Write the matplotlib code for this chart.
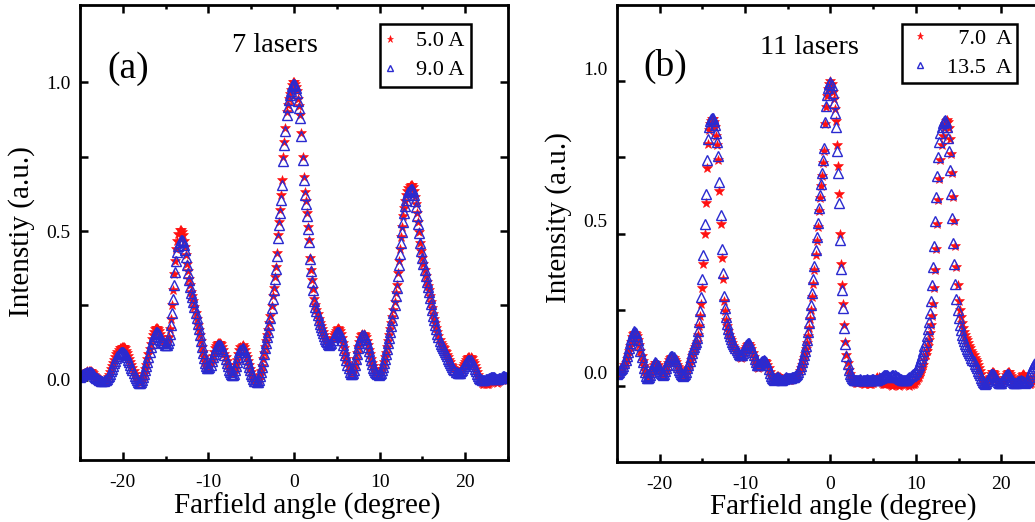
import numpy as np
import matplotlib
matplotlib.use('Agg')
import matplotlib.pyplot as plt
from matplotlib.ticker import MultipleLocator
from matplotlib.transforms import ScaledTranslation

plt.rcParams['font.family'] = ['Liberation Serif', 'DejaVu Serif']

# farfield angle grid (degree): -25 .. 25, one sample every 0.125 deg
# each row below = 1 degree (8 samples)
angle = np.arange(-25.0, 25.0001, 0.125)

# (a) 7 lasers, 5.0 A
a_5A = [
    0.010, 0.012, 0.015, 0.018, 0.021, 0.024, 0.027, 0.029,   # -25
    0.030, 0.030, 0.028, 0.025, 0.021, 0.016, 0.012, 0.008,   # -24
    0.005, 0.002, 0.000, -0.003, -0.005, -0.006, -0.005, -0.003,
    0.000, 0.004, 0.010, 0.017, 0.025, 0.035, 0.045, 0.055,   # -22
    0.065, 0.075, 0.085, 0.093, 0.100, 0.105, 0.108, 0.110,
    0.110, 0.109, 0.105, 0.098, 0.090, 0.080, 0.070, 0.060,   # -20
    0.050, 0.040, 0.030, 0.020, 0.010, 0.002, -0.005, -0.009,
    -0.010, -0.007, 0.000, 0.010, 0.020, 0.035, 0.050, 0.068,
    0.085, 0.103, 0.120, 0.136, 0.150, 0.161, 0.170, 0.174,
    0.175, 0.172, 0.165, 0.155, 0.145, 0.135, 0.128, 0.123,   # -16
    0.120, 0.122, 0.130, 0.145, 0.170, 0.205, 0.250, 0.300,
    0.355, 0.400, 0.440, 0.468, 0.490, 0.502, 0.505, 0.498,   # -14
    0.485, 0.467, 0.445, 0.418, 0.390, 0.365, 0.340, 0.317,
    0.295, 0.280, 0.265, 0.245, 0.225, 0.205, 0.185, 0.168,   # -12
    0.150, 0.130, 0.110, 0.092, 0.075, 0.058, 0.045, 0.040,
    0.040, 0.045, 0.055, 0.067, 0.080, 0.093, 0.105, 0.114,   # -10
    0.120, 0.124, 0.125, 0.124, 0.120, 0.111, 0.100, 0.088,
    0.075, 0.062, 0.050, 0.039, 0.030, 0.024, 0.020, 0.020,   # -8
    0.025, 0.036, 0.050, 0.067, 0.085, 0.100, 0.110, 0.114,
    0.115, 0.110, 0.100, 0.088, 0.075, 0.062, 0.050, 0.037,   # -6
    0.025, 0.014, 0.005, -0.002, -0.006, -0.010, -0.010, 0.000,
    0.015, 0.030, 0.045, 0.068, 0.090, 0.110, 0.130, 0.150,   # -4
    0.168, 0.190, 0.215, 0.248, 0.280, 0.310, 0.345, 0.380,
    0.425, 0.485, 0.530, 0.570, 0.620, 0.670, 0.750, 0.800,   # -2
    0.845, 0.900, 0.925, 0.945, 0.960, 0.975, 0.990, 1.000,
    1.000, 0.995, 0.985, 0.970, 0.945, 0.920, 0.890, 0.830,   # 0
    0.750, 0.680, 0.630, 0.600, 0.560, 0.515, 0.470, 0.410,
    0.370, 0.335, 0.305, 0.270, 0.250, 0.235, 0.220, 0.205,   # 2
    0.190, 0.180, 0.170, 0.160, 0.150, 0.140, 0.135, 0.130,
    0.125, 0.122, 0.123, 0.130, 0.140, 0.150, 0.158, 0.165,   # 4
    0.170, 0.173, 0.172, 0.165, 0.155, 0.140, 0.122, 0.105,
    0.088, 0.070, 0.055, 0.042, 0.030, 0.022, 0.020, 0.025,   # 6
    0.035, 0.050, 0.070, 0.090, 0.110, 0.127, 0.140, 0.150,
    0.155, 0.155, 0.150, 0.142, 0.130, 0.116, 0.100, 0.085,   # 8
    0.070, 0.057, 0.045, 0.036, 0.030, 0.024, 0.020, 0.019,
    0.020, 0.025, 0.035, 0.047, 0.060, 0.075, 0.090, 0.110,   # 10
    0.130, 0.150, 0.170, 0.190, 0.210, 0.235, 0.260, 0.290,
    0.320, 0.360, 0.400, 0.440, 0.480, 0.515, 0.550, 0.577,   # 12
    0.600, 0.620, 0.635, 0.646, 0.653, 0.656, 0.655, 0.647,
    0.635, 0.615, 0.590, 0.560, 0.530, 0.495, 0.460, 0.433,   # 14
    0.410, 0.390, 0.370, 0.350, 0.330, 0.315, 0.300, 0.280,
    0.260, 0.240, 0.220, 0.205, 0.190, 0.175, 0.160, 0.147,   # 16
    0.135, 0.125, 0.117, 0.110, 0.105, 0.098, 0.092, 0.084,
    0.076, 0.067, 0.058, 0.050, 0.045, 0.040, 0.035, 0.031,   # 18
    0.028, 0.026, 0.025, 0.027, 0.030, 0.037, 0.045, 0.052,
    0.060, 0.066, 0.072, 0.076, 0.078, 0.076, 0.072, 0.064,   # 20
    0.055, 0.045, 0.035, 0.025, 0.015, 0.007, 0.000, -0.005,
    -0.010, -0.013, -0.015, -0.016, -0.015, -0.013, -0.010, -0.007,
    -0.005, -0.002, 0.000, -0.002, -0.005, -0.008, -0.010, -0.008,
    -0.005, -0.002, 0.000, 0.003, 0.005, 0.005, 0.005, 0.002,  # 24
    0.000,
]

# (a) 7 lasers, 9.0 A
a_9A = [
    0.010, 0.012, 0.015, 0.018, 0.020, 0.022, 0.024, 0.026,   # -25
    0.027, 0.027, 0.025, 0.022, 0.018, 0.014, 0.010, 0.007,
    0.005, 0.002, 0.000, -0.002, -0.004, -0.005, -0.004, -0.002,
    0.000, 0.003, 0.008, 0.014, 0.020, 0.028, 0.037, 0.046,   # -22
    0.055, 0.064, 0.072, 0.079, 0.085, 0.089, 0.092, 0.093,
    0.092, 0.091, 0.088, 0.082, 0.075, 0.067, 0.058, 0.049,   # -20
    0.040, 0.031, 0.022, 0.013, 0.005, -0.002, -0.007, -0.010,
    -0.010, -0.007, 0.000, 0.009, 0.018, 0.031, 0.045, 0.061,
    0.078, 0.094, 0.110, 0.125, 0.138, 0.148, 0.155, 0.159,
    0.160, 0.158, 0.152, 0.144, 0.135, 0.128, 0.122, 0.118,   # -16
    0.115, 0.116, 0.122, 0.135, 0.155, 0.185, 0.225, 0.270,
    0.320, 0.362, 0.400, 0.428, 0.450, 0.464, 0.470, 0.470,   # -14
    0.465, 0.452, 0.435, 0.411, 0.385, 0.360, 0.335, 0.312,
    0.290, 0.277, 0.262, 0.244, 0.225, 0.206, 0.188, 0.170,   # -12
    0.150, 0.130, 0.110, 0.090, 0.072, 0.056, 0.045, 0.039,
    0.038, 0.042, 0.050, 0.062, 0.075, 0.087, 0.098, 0.106,   # -10
    0.112, 0.116, 0.118, 0.117, 0.112, 0.104, 0.095, 0.083,
    0.070, 0.057, 0.045, 0.034, 0.025, 0.019, 0.015, 0.015,   # -8
    0.020, 0.031, 0.045, 0.061, 0.078, 0.092, 0.100, 0.104,
    0.105, 0.101, 0.092, 0.081, 0.068, 0.055, 0.042, 0.031,   # -6
    0.020, 0.011, 0.003, -0.003, -0.006, -0.008, -0.008, 0.000,
    0.013, 0.027, 0.042, 0.063, 0.085, 0.105, 0.124, 0.144,   # -4
    0.162, 0.184, 0.208, 0.240, 0.272, 0.302, 0.337, 0.372,
    0.415, 0.475, 0.520, 0.560, 0.605, 0.655, 0.735, 0.790,   # -2
    0.835, 0.890, 0.918, 0.940, 0.956, 0.972, 0.986, 0.995,
    0.995, 0.990, 0.980, 0.965, 0.938, 0.912, 0.880, 0.820,   # 0
    0.740, 0.670, 0.620, 0.592, 0.552, 0.508, 0.463, 0.405,
    0.365, 0.330, 0.300, 0.266, 0.246, 0.231, 0.216, 0.201,   # 2
    0.186, 0.176, 0.166, 0.156, 0.146, 0.136, 0.131, 0.126,
    0.121, 0.118, 0.119, 0.125, 0.134, 0.143, 0.150, 0.156,   # 4
    0.160, 0.162, 0.161, 0.155, 0.146, 0.132, 0.115, 0.099,
    0.083, 0.066, 0.051, 0.038, 0.027, 0.020, 0.018, 0.023,   # 6
    0.033, 0.048, 0.068, 0.088, 0.107, 0.123, 0.135, 0.144,
    0.149, 0.149, 0.145, 0.137, 0.125, 0.111, 0.096, 0.081,   # 8
    0.066, 0.053, 0.041, 0.032, 0.026, 0.021, 0.018, 0.017,
    0.018, 0.022, 0.031, 0.043, 0.055, 0.070, 0.085, 0.104,   # 10
    0.122, 0.141, 0.160, 0.180, 0.200, 0.224, 0.250, 0.280,
    0.310, 0.348, 0.385, 0.423, 0.460, 0.495, 0.530, 0.560,   # 12
    0.585, 0.605, 0.620, 0.631, 0.638, 0.641, 0.640, 0.633,
    0.620, 0.602, 0.580, 0.552, 0.525, 0.492, 0.460, 0.433,   # 14
    0.410, 0.390, 0.370, 0.350, 0.330, 0.312, 0.295, 0.275,
    0.255, 0.235, 0.215, 0.200, 0.185, 0.170, 0.155, 0.142,   # 16
    0.130, 0.120, 0.112, 0.105, 0.100, 0.093, 0.087, 0.079,
    0.071, 0.063, 0.055, 0.048, 0.042, 0.036, 0.031, 0.027,   # 18
    0.025, 0.023, 0.022, 0.024, 0.028, 0.034, 0.040, 0.046,
    0.052, 0.057, 0.062, 0.065, 0.066, 0.065, 0.060, 0.053,   # 20
    0.045, 0.037, 0.028, 0.020, 0.012, 0.006, 0.003, 0.001,
    0.000, 0.000, 0.000, 0.001, 0.002, 0.003, 0.005, 0.006,   # 22
    0.008, 0.009, 0.010, 0.008, 0.005, 0.003, 0.002, 0.003,
    0.005, 0.007, 0.010, 0.012, 0.012, 0.010, 0.008, 0.006,   # 24
    0.005,
]

# (b) 11 lasers, 7.0 A
b_7A = [
    0.040, 0.042, 0.045, 0.047, 0.050, 0.055, 0.060, 0.067,   # -25
    0.075, 0.087, 0.100, 0.115, 0.130, 0.145, 0.160, 0.170,
    0.175, 0.174, 0.170, 0.162, 0.150, 0.133, 0.115, 0.097,   # -23
    0.080, 0.064, 0.050, 0.039, 0.030, 0.026, 0.025, 0.031,
    0.040, 0.050, 0.060, 0.069, 0.075, 0.074, 0.070, 0.060,   # -21
    0.050, 0.042, 0.035, 0.033, 0.035, 0.041, 0.050, 0.062,
    0.075, 0.084, 0.090, 0.094, 0.095, 0.091, 0.085, 0.078,   # -19
    0.070, 0.062, 0.055, 0.047, 0.040, 0.035, 0.033, 0.034,
    0.037, 0.042, 0.050, 0.060, 0.072, 0.085, 0.097, 0.108,   # -17
    0.117, 0.126, 0.135, 0.145, 0.168, 0.198, 0.230, 0.270,
    0.320, 0.400, 0.500, 0.600, 0.715, 0.795, 0.840, 0.860,   # -15
    0.870, 0.876, 0.875, 0.865, 0.850, 0.820, 0.790, 0.740,
    0.640, 0.530, 0.420, 0.350, 0.280, 0.245, 0.215, 0.195,   # -13
    0.180, 0.168, 0.158, 0.150, 0.140, 0.132, 0.125, 0.118,
    0.112, 0.105, 0.100, 0.096, 0.093, 0.095, 0.100, 0.110,   # -11
    0.120, 0.128, 0.133, 0.137, 0.137, 0.130, 0.120, 0.108,
    0.095, 0.082, 0.072, 0.063, 0.060, 0.062, 0.067, 0.072,   # -9
    0.077, 0.080, 0.082, 0.082, 0.078, 0.070, 0.058, 0.045,
    0.035, 0.028, 0.025, 0.025, 0.027, 0.030, 0.032, 0.032,   # -7
    0.030, 0.028, 0.025, 0.022, 0.020, 0.022, 0.025, 0.023,
    0.020, 0.020, 0.020, 0.022, 0.025, 0.025, 0.025, 0.028,   # -5
    0.030, 0.035, 0.040, 0.050, 0.060, 0.070, 0.080, 0.090,
    0.105, 0.120, 0.140, 0.165, 0.190, 0.220, 0.250, 0.290,   # -3
    0.335, 0.380, 0.430, 0.475, 0.520, 0.575, 0.615, 0.655,
    0.690, 0.730, 0.770, 0.860, 0.915, 0.950, 0.975, 0.990,   # -1
    1.000, 0.990, 0.965, 0.940, 0.910, 0.870, 0.790, 0.720,
    0.630, 0.500, 0.400, 0.330, 0.270, 0.200, 0.145, 0.100,   # 1
    0.075, 0.052, 0.040, 0.030, 0.022, 0.018, 0.015, 0.012,
    0.010, 0.010, 0.010, 0.012, 0.015, 0.012, 0.010, 0.007,   # 3
    0.005, 0.008, 0.010, 0.008, 0.005, 0.005, 0.005, 0.008,
    0.010, 0.015, 0.020, 0.026, 0.030, 0.028, 0.025, 0.017,   # 5
    0.010, 0.007, 0.005, 0.005, 0.005, 0.008, 0.010, 0.008,
    0.005, 0.002, 0.000, 0.003, 0.005, 0.005, 0.005, 0.002,   # 7
    0.000, 0.003, 0.005, 0.008, 0.010, 0.008, 0.005, 0.005,
    0.005, 0.002, 0.000, 0.003, 0.005, 0.005, 0.005, 0.010,   # 9
    0.015, 0.020, 0.025, 0.030, 0.040, 0.050, 0.060, 0.070,
    0.085, 0.100, 0.115, 0.130, 0.150, 0.175, 0.200, 0.230,   # 11
    0.270, 0.320, 0.380, 0.450, 0.530, 0.610, 0.680, 0.740,
    0.790, 0.820, 0.845, 0.860, 0.870, 0.872, 0.865, 0.845,   # 13
    0.810, 0.760, 0.700, 0.620, 0.540, 0.460, 0.390, 0.330,
    0.280, 0.250, 0.225, 0.205, 0.190, 0.178, 0.168, 0.158,   # 15
    0.150, 0.140, 0.132, 0.124, 0.115, 0.107, 0.100, 0.092,
    0.085, 0.077, 0.070, 0.060, 0.050, 0.038, 0.025, 0.015,   # 17
    0.008, 0.005, 0.005, 0.010, 0.020, 0.030, 0.040, 0.044,
    0.045, 0.042, 0.035, 0.027, 0.020, 0.014, 0.010, 0.007,   # 19
    0.005, 0.008, 0.015, 0.025, 0.035, 0.042, 0.045, 0.044,
    0.040, 0.033, 0.025, 0.017, 0.010, 0.007, 0.005, 0.007,   # 21
    0.010, 0.020, 0.030, 0.036, 0.040, 0.036, 0.030, 0.022,
    0.015, 0.010, 0.005, 0.007, 0.010, 0.015, 0.020, 0.025,   # 23
    0.030, 0.035, 0.040, 0.043, 0.045, 0.043, 0.040, 0.037,
    0.035,
]

# (b) 11 lasers, 13.5 A
b_13A = [
    0.040, 0.043, 0.047, 0.051, 0.055, 0.060, 0.065, 0.074,   # -25
    0.085, 0.097, 0.110, 0.125, 0.140, 0.155, 0.165, 0.175,
    0.180, 0.178, 0.172, 0.163, 0.150, 0.133, 0.115, 0.096,   # -23
    0.078, 0.060, 0.045, 0.033, 0.025, 0.025, 0.028, 0.036,
    0.045, 0.055, 0.065, 0.073, 0.078, 0.076, 0.070, 0.060,   # -21
    0.050, 0.043, 0.038, 0.037, 0.040, 0.048, 0.058, 0.070,
    0.080, 0.089, 0.095, 0.098, 0.098, 0.094, 0.088, 0.080,   # -19
    0.070, 0.061, 0.052, 0.044, 0.038, 0.034, 0.032, 0.034,
    0.040, 0.046, 0.058, 0.070, 0.082, 0.095, 0.108, 0.120,   # -17
    0.128, 0.136, 0.145, 0.158, 0.180, 0.210, 0.245, 0.290,
    0.350, 0.430, 0.530, 0.630, 0.740, 0.810, 0.850, 0.868,   # -15
    0.876, 0.880, 0.878, 0.870, 0.855, 0.830, 0.800, 0.755,
    0.670, 0.560, 0.450, 0.370, 0.295, 0.255, 0.225, 0.202,   # -13
    0.185, 0.172, 0.162, 0.153, 0.145, 0.137, 0.130, 0.124,
    0.118, 0.112, 0.106, 0.102, 0.100, 0.102, 0.108, 0.117,   # -11
    0.126, 0.133, 0.138, 0.140, 0.140, 0.134, 0.124, 0.112,
    0.100, 0.088, 0.078, 0.070, 0.067, 0.068, 0.072, 0.077,   # -9
    0.081, 0.083, 0.084, 0.083, 0.078, 0.068, 0.055, 0.042,
    0.032, 0.026, 0.022, 0.020, 0.022, 0.025, 0.028, 0.028,   # -7
    0.025, 0.022, 0.020, 0.020, 0.022, 0.025, 0.028, 0.027,
    0.025, 0.025, 0.025, 0.027, 0.030, 0.030, 0.030, 0.032,   # -5
    0.035, 0.040, 0.045, 0.055, 0.065, 0.077, 0.088, 0.100,
    0.115, 0.132, 0.152, 0.177, 0.205, 0.235, 0.265, 0.305,   # -3
    0.350, 0.395, 0.445, 0.490, 0.535, 0.585, 0.625, 0.662,
    0.700, 0.740, 0.780, 0.865, 0.920, 0.955, 0.978, 0.992,   # -1
    0.998, 0.988, 0.960, 0.930, 0.895, 0.850, 0.770, 0.700,
    0.600, 0.480, 0.385, 0.315, 0.255, 0.190, 0.138, 0.098,   # 1
    0.072, 0.052, 0.040, 0.032, 0.025, 0.022, 0.020, 0.018,
    0.018, 0.018, 0.020, 0.020, 0.022, 0.020, 0.018, 0.018,   # 3
    0.020, 0.020, 0.022, 0.020, 0.018, 0.018, 0.020, 0.022,
    0.022, 0.020, 0.018, 0.018, 0.020, 0.022, 0.025, 0.027,   # 5
    0.030, 0.032, 0.034, 0.035, 0.035, 0.035, 0.033, 0.030,
    0.030, 0.032, 0.035, 0.036, 0.035, 0.033, 0.030, 0.028,   # 7
    0.025, 0.023, 0.022, 0.020, 0.020, 0.019, 0.018, 0.020,
    0.022, 0.025, 0.030, 0.032, 0.035, 0.038, 0.040, 0.045,   # 9
    0.050, 0.055, 0.062, 0.070, 0.080, 0.090, 0.102, 0.115,
    0.130, 0.145, 0.162, 0.185, 0.210, 0.240, 0.280, 0.330,   # 11
    0.390, 0.460, 0.540, 0.620, 0.690, 0.750, 0.800, 0.830,
    0.850, 0.862, 0.870, 0.872, 0.866, 0.848, 0.815, 0.770,   # 13
    0.710, 0.630, 0.550, 0.470, 0.400, 0.335, 0.285, 0.250,
    0.222, 0.200, 0.182, 0.168, 0.157, 0.147, 0.138, 0.130,   # 15
    0.122, 0.115, 0.108, 0.100, 0.093, 0.086, 0.080, 0.073,
    0.066, 0.058, 0.050, 0.042, 0.035, 0.027, 0.020, 0.013,   # 17
    0.008, 0.007, 0.010, 0.016, 0.024, 0.032, 0.038, 0.040,
    0.040, 0.036, 0.030, 0.024, 0.018, 0.013, 0.010, 0.009,   # 19
    0.010, 0.015, 0.022, 0.030, 0.037, 0.040, 0.040, 0.036,
    0.030, 0.024, 0.018, 0.013, 0.010, 0.009, 0.010, 0.012,   # 21
    0.015, 0.017, 0.018, 0.017, 0.015, 0.012, 0.010, 0.012,
    0.015, 0.020, 0.028, 0.038, 0.048, 0.058, 0.066, 0.072,   # 23
    0.076, 0.079, 0.080, 0.079, 0.076, 0.072, 0.068, 0.064,
    0.060,
]

ytick_vals = [0.0, 0.25, 0.5, 0.75, 1.0]
ytick_labels = ['0.0', '', '0.5', '', '1.0']
xtick_vals = [-20, -10, 0, 10, 20]
xtick_labels = ['-20', '-10', '0', '10', '20']

panels = [
    dict(pos=[0.0773, 0.1188, 0.4135, 0.8716], ylim=(-0.27, 1.26),
         red=a_5A, blue=a_9A, labels=['5.0 A', '9.0 A'],
         tag='(a)', tag_xy=(0.112, 0.859), title='7 lasers', title_xy=(0.456, 0.912),
         ylabel='Intenstiy (a.u.)', ylab_xy=(-0.104, 0.503), xlab_xy=(0.532, -0.073),
         leg_xy=(0.701, 0.958), leg_pad=0.3, leg_hl=0.3, leg_tp=1.0, shift=0),
    dict(pos=[0.5961, 0.1149, 0.4126, 0.8755], ylim=(-0.25, 1.25),
         red=b_7A, blue=b_13A, labels=['  7.0  A', '13.5  A'],
         tag='(b)', tag_xy=(0.114, 0.866), title='11 lasers', title_xy=(0.45, 0.908),
         ylabel='Intensity (a.u.)', ylab_xy=(-0.106, 0.534), xlab_xy=(0.529, -0.070),
         leg_xy=(0.667, 0.958), leg_pad=0.2, leg_hl=1.2, leg_tp=0.63, shift=13),
]

fig = plt.figure(figsize=(10.35, 5.22), dpi=100)

for p in panels:
    ax = fig.add_axes(p['pos'])
    ax.plot(angle, p['red'], linestyle='none', marker='*', markersize=7.5,
            color='#ff1010', markeredgewidth=0.4, label=p['labels'][0])
    ax.plot(angle, p['blue'], linestyle='none', marker='^', markersize=6.5,
            markerfacecolor='none', markeredgecolor='#2a2ad0', markeredgewidth=1.0,
            label=p['labels'][1])
    ax.set_xlim(-25, 25)
    ax.set_ylim(*p['ylim'])
    ax.set_xticks(xtick_vals)
    ax.set_xticklabels(xtick_labels)
    ax.xaxis.set_minor_locator(MultipleLocator(5))
    ax.set_yticks(ytick_vals)
    ax.set_yticklabels(ytick_labels)
    ax.tick_params(which='both', direction='in', top=True, right=True, width=1.8)
    ax.tick_params(which='major', length=5.5, labelsize=14)
    ax.tick_params(which='minor', length=3)
    ax.tick_params(axis='x', pad=10)
    ax.tick_params(axis='y', pad=7)
    for s in ax.spines.values():
        s.set_linewidth(2.0)
    ax.set_xlabel('Farfield angle (degree)', fontsize=21)
    ax.set_ylabel(p['ylabel'], fontsize=21)
    ax.xaxis.set_label_coords(*p['xlab_xy'])
    ax.yaxis.set_label_coords(*p['ylab_xy'])
    ax.text(*p['tag_xy'], p['tag'], transform=ax.transAxes, fontsize=27,
            ha='center', va='center')
    ax.text(*p['title_xy'], p['title'], transform=ax.transAxes, fontsize=20.5,
            ha='center', va='center')
    leg = ax.legend(loc='upper left', bbox_to_anchor=p['leg_xy'], fontsize=16,
                    frameon=True, fancybox=False, edgecolor='black', framealpha=1,
                    markerscale=0.7, handlelength=p['leg_hl'], handletextpad=p['leg_tp'],
                    borderpad=p['leg_pad'], labelspacing=0.38, borderaxespad=0)
    leg.get_frame().set_linewidth(1.8)
    if p['shift']:
        off = ScaledTranslation(0, p['shift'] / 100, fig.dpi_scale_trans)
        for lab in ax.get_yticklabels():
            lab.set_transform(lab.get_transform() + off)

fig.savefig('out.png', dpi=100, facecolor='white')
